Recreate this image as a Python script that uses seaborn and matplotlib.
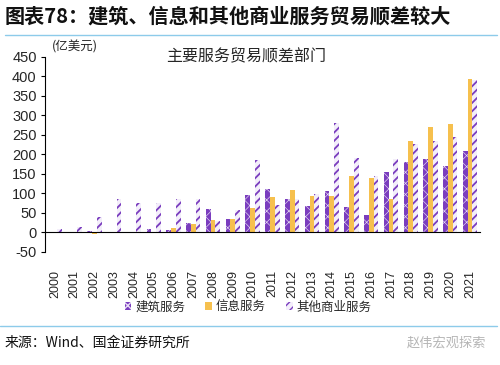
import matplotlib
matplotlib.use("Agg")
import matplotlib.pyplot as plt
from matplotlib.lines import Line2D
from matplotlib.patches import Patch
import seaborn as sns
import pandas as pd
import numpy as np

years = [str(y) for y in range(2000, 2022)]
construction = [-2, 0, 2, 1, 0, 9, 6, 23, 59, 35, 95, 110, 86, 68, 105, 65, 44, 154, 180, 187, 171, 208]
information = [0, 0, -4, 0, 0, 0, 12, 21, 32, 35, 62, 89, 108, 94, 94, 145, 140, 86, 234, 269, 277, 393]
other = [9, 14, 38, 86, 75, 75, 84, 86, 28, 57, 184, 71, 86, 98, 281, 189, 144, 187, 227, 235, 243, 391]
series_names = ["建筑服务", "信息服务", "其他商业服务"]
yticks = [-50, 0, 50, 100, 150, 200, 250, 300, 350, 400, 450]

sns.set_theme(style="white")
plt.rcParams['font.family'] = ['Liberation Sans', 'Noto Sans CJK SC', 'DejaVu Sans']
CJK = ['Noto Sans CJK SC', 'DejaVu Sans']

df = pd.DataFrame({
    "year": years * 3,
    "value": construction + information + other,
    "series": [series_names[0]] * 22 + [series_names[1]] * 22 + [series_names[2]] * 22,
})

purple = "#7A3DBE"
yellow = "#F6C04E"

fig = plt.figure(figsize=(5.0, 3.65), dpi=100)
ax = fig.add_axes([45 / 500, 1 - 251.7 / 365, 435 / 500, (251.7 - 56.7) / 365])

sns.barplot(data=df, x="year", y="value", hue="series", hue_order=series_names,
            palette=[purple, yellow, "white"], width=0.72, ax=ax, legend=False,
            saturation=1, linewidth=0)

styles = [
    dict(fc=purple, ec="#E8DDF5", hatch="xxx", hlw=0.45),
    dict(fc=yellow, ec=yellow, hatch="", hlw=0.5),
    dict(fc="#F3EEFA", ec=purple, hatch="////", hlw=1.3),
]


def apply_style(p, st):
    p.set_facecolor(st["fc"])
    p.set_edgecolor(st["ec"])
    p.set_hatch(st["hatch"])
    p.set_linewidth(0)
    if hasattr(p, "set_hatch_linewidth"):
        p.set_hatch_linewidth(st["hlw"])
    else:
        p._hatch_linewidth = st["hlw"]


for cont, st in zip(ax.containers, styles):
    for p in cont.patches:
        apply_style(p, st)

ax.set_xlim(-0.5, len(years) - 0.5)
ax.set_ylim(-50, 450)
ax.set_yticks(yticks)
ax.set_yticklabels([str(v) for v in yticks], fontsize=10.5)
ax.set_xlabel("")
ax.set_ylabel("")

for s in ["top", "right"]:
    ax.spines[s].set_visible(False)
ax.spines["bottom"].set_position(("data", 0))
ax.spines["bottom"].set_color("black")
ax.spines["bottom"].set_linewidth(0.8)
ax.spines["left"].set_color("black")
ax.spines["left"].set_linewidth(0.8)

ax.set_xticks(range(len(years)))
ax.set_xticklabels(years, rotation=90, fontsize=9)
ax.tick_params(axis="x", which="major", length=0, pad=27)
ax.set_xticks(np.arange(-0.5, len(years), 1.0), minor=True)
ax.tick_params(axis="x", which="minor", length=3, width=0.8, direction="out", color="black")
ax.tick_params(axis="y", length=3, width=0.8, direction="out", color="black", pad=3, left=True)
for lab in ax.get_xticklabels():
    lab.set_verticalalignment("top")

ax.text(-0.5 + 0.462 * len(years), 450, "主要服务贸易顺差部门",
        ha="center", va="center", fontsize=11.5, family=CJK)

fig.text(52 / 500, 1 - 47 / 365, "(亿美元)", ha="left", va="center", fontsize=9, family=CJK)

handles = []
for st in styles:
    h = Patch(facecolor=st["fc"], edgecolor=st["ec"], hatch=st["hatch"], linewidth=0)
    apply_style(h, st)
    handles.append(h)
fig.legend(handles, series_names, loc="center", bbox_to_anchor=(248 / 500, 1 - 307 / 365),
           ncol=3, frameon=False, prop={"family": CJK, "size": 9},
           handlelength=0.55, handleheight=0.55, handletextpad=0.3, columnspacing=1.6)

fig.text(5 / 500, 1 - 16 / 365, "图表78：建筑、信息和其他商业服务贸易顺差较大",
         ha="left", va="center", fontsize=14.5, fontweight="heavy", family=CJK, color="#111111")
fig.add_artist(Line2D([5 / 500, 497 / 500], [1 - 35 / 365] * 2, color="#8DCBEA", lw=1.0))
fig.add_artist(Line2D([0 / 500, 497 / 500], [1 - 326 / 365] * 2, color="#8DCBEA", lw=1.0))
fig.text(5 / 500, 1 - 343 / 365, "来源：Wind、国金证券研究所", ha="left", va="center",
         fontsize=10, family=CJK, color="#111111")
fig.text(486 / 500, 1 - 343 / 365, "赵伟宏观探索", ha="right", va="center",
         fontsize=9.5, family=CJK, color="#B5B5B5")

fig.savefig("out.png", dpi=100)
